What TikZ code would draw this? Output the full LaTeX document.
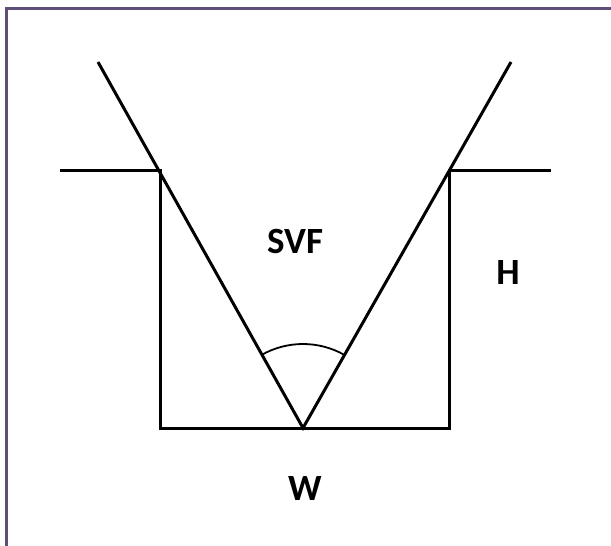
\documentclass[tikz,border=0pt]{standalone}
\usepackage{fontspec}
\setmainfont{Carlito}
\begin{document}
\begin{tikzpicture}[x=1pt,y=-1pt,
  line/.style={line width=3pt,black},
  lbl/.style={font=\fontsize{37}{40}\selectfont\bfseries,inner sep=0pt}]
\useasboundingbox (0,0) rectangle (611,546);
\fill[white] (0,0) rectangle (611,546);
% frame (only top and left visible)
\draw[line width=3pt,color={rgb,255:red,94;green,78;blue,122}] (6,546) -- (6,8) -- (611,8);
% key points
\coordinate (lt) at (98,62);
\coordinate (rt) at (511,62);
\coordinate (lc) at (160,170);
\coordinate (rc) at (449,170);
\coordinate (lo) at (60,170);
\coordinate (ro) at (551,170);
\coordinate (lb) at (160,428);
\coordinate (rb) at (449,428);
\coordinate (v) at (303,428);
% lines
\draw[line] (lt) -- (v) -- (rt);
\draw[line] (lo) -- (lc) -- (lb) -- (rb) -- (rc) -- (ro);
% angle arc
\draw[line width=1.8pt] (v) ++(-60.5:84) arc[start angle=-60.5,end angle=-119.5,radius=84];
% labels
\node[lbl] (svf) at (295,241) {SVF};
\node[lbl] (h) at (508,273) {H};
\node[lbl] (w) at (305,488) {W};
\end{tikzpicture}
\end{document}
